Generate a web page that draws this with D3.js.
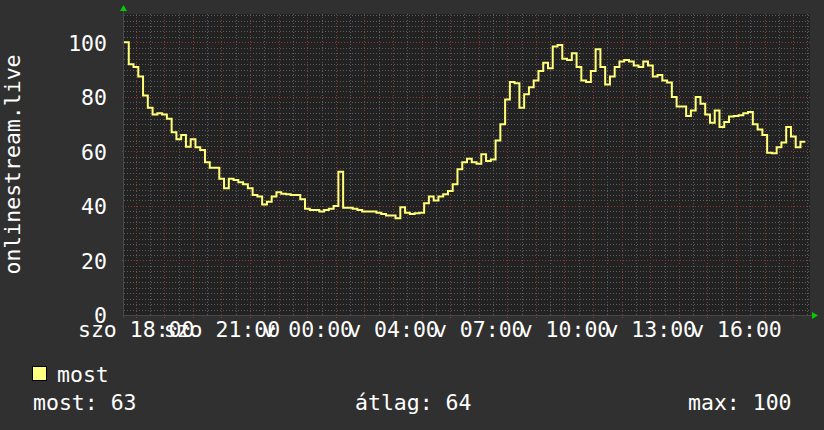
<!DOCTYPE html>
<html><head><meta charset="utf-8">
<script src="https://cdn.jsdelivr.net/npm/d3@7"></script>
<style>html,body{margin:0;padding:0;background:#303030;}svg{display:block;}</style>
</head><body>
<svg id="chart" width="824" height="430"></svg>
<script>
// ---- data (10-minute samples, starting 17:35 on "szo") ----
const values = [
 100, 92, 91, 87.5, 80.5, 76, 73.5, 74, 73.5, 72,
 67, 64.5, 66, 61.7, 64.5, 61.5, 60.5, 56, 54, 54,
 50, 46.5, 50, 49.5, 48.7, 48, 46.5, 44, 43.5, 40.5,
 41.5, 43.5, 45, 44.5, 44.3, 44, 44, 42.5, 39, 38.5,
 38.5, 38, 38.5, 39, 40, 52.5, 39.3, 39.3, 39, 38.5,
 38, 38, 38, 37.5, 37, 36.5, 36.5, 35.5, 39.5, 37.5,
 37, 37.3, 37.5, 41, 43.5, 42, 43.5, 44.3, 45.5, 48,
 53.5, 56, 57.3, 56, 55.5, 59, 56.5, 57, 64, 70,
 79, 85.5, 85, 76, 81, 83.5, 86, 89.5, 92.5, 90.5,
 98.5, 99, 94, 93.5, 96, 91, 86, 85.5, 89.5, 97.5,
 91, 84.5, 87.5, 91, 93, 93.5, 93, 91.5, 91, 93,
 91.5, 87.5, 88, 86, 85.3, 80, 76.5, 76.5, 73, 75,
 80, 77.5, 73.5, 70.5, 75, 69, 70.8, 72.8, 73, 73.3,
 74, 74.5, 70, 68, 66, 59.5, 59.3, 61.5, 63.3, 69,
 65.5, 61.5, 63.5
];
const sampleHours = 1 / 6;           // 10 minutes per sample
const spanHours = 24;                // one day shown
const tickLabels = ["szo 18:00", "szo 21:00", "v 00:00", "v 04:00", "v 07:00", "v 10:00", "v 13:00", "v 16:00"];
const tickHours = [0.41, 3.41, 6.41, 9.41, 12.41, 15.41, 18.41, 21.41];
const yTicks = [0, 20, 40, 60, 80, 100];
const yMax = 110.4;
const seriesName = "most";
const axisTitle = "onlinestream.live";
const legendStats = ["most: 63", "átlag: 64", "max: 100"];

// ---- layout ----
const svg = d3.select("#chart");
const W = 824, H = 430;
const L = 124, R = 810, T = 14, B = 315;
const FONT = "'DejaVu Sans Mono', monospace";
const FS = "21.5px";

svg.append("rect").attr("width", W).attr("height", H).attr("fill", "#303030");
svg.append("rect").attr("x", L).attr("y", T).attr("width", R - L).attr("height", B - T).attr("fill", "#222222");

const x = d3.scaleLinear().domain([0, spanHours]).range([L, R]);
const y = d3.scaleLinear().domain([0, yMax]).range([B, T]);

// minor grid
const minorX = d3.range(Math.ceil((0 - tickHours[0]) / 0.5), Math.floor((spanHours - tickHours[0]) / 0.5) + 1)
  .map(k => tickHours[0] + k * 0.5).filter(h => h > 0 && h < spanHours);
const minorY = d3.range(2, yMax, 2);
const grid = svg.append("g").attr("shape-rendering", "crispEdges");
grid.selectAll(".mx").data(minorX.filter(h => Math.abs(((h - tickHours[0]) % 1)) > 0.01))
  .join("line").attr("x1", d => Math.round(x(d)) + 0.5).attr("x2", d => Math.round(x(d)) + 0.5)
  .attr("y1", T).attr("y2", B).attr("stroke", "#5c5c5c").attr("stroke-dasharray", "1,2");
grid.selectAll(".my").data(minorY.filter(v => v % 20 !== 0))
  .join("line").attr("y1", d => Math.round(y(d)) + 0.5).attr("y2", d => Math.round(y(d)) + 0.5)
  .attr("x1", L).attr("x2", R).attr("stroke", "#5c5c5c").attr("stroke-dasharray", "1,2");
// major grid (hourly / every 20)
const majorX = minorX.filter(h => Math.abs(((h - tickHours[0]) % 1)) < 0.01);
grid.selectAll(".Mx").data(majorX)
  .join("line").attr("x1", d => Math.round(x(d)) + 0.5).attr("x2", d => Math.round(x(d)) + 0.5)
  .attr("y1", T).attr("y2", B + 3).attr("stroke", "#8a3838").attr("stroke-dasharray", "1,2");
grid.selectAll(".My").data(yTicks.filter(v => v > 0))
  .join("line").attr("y1", d => Math.round(y(d)) + 0.5).attr("y2", d => Math.round(y(d)) + 0.5)
  .attr("x1", L - 2).attr("x2", R).attr("stroke", "#8a3838").attr("stroke-dasharray", "1,2");

// axis lines
svg.append("line").attr("x1", L).attr("x2", R + 3).attr("y1", B + 0.5).attr("y2", B + 0.5).attr("stroke", "#484848");
svg.append("line").attr("x1", L - 0.5).attr("x2", L - 0.5).attr("y1", T - 3).attr("y2", B + 3).attr("stroke", "#484848");
// arrows
svg.append("path").attr("d", `M${R + 2},${B - 3} L${R + 8},${B + 0.5} L${R + 2},${B + 4} Z`).attr("fill", "#00cc00");
svg.append("path").attr("d", `M${L - 4},${T - 3} L${L - 0.5},${T - 9} L${L + 3},${T - 3} Z`).attr("fill", "#00cc00");

// y axis labels
const yAxis = d3.axisLeft(y).tickValues(yTicks).tickSize(0).tickPadding(17).tickFormat(d3.format("d"));
const gy = svg.append("g").attr("transform", `translate(${L},0)`).call(yAxis);
gy.select(".domain").remove();
gy.selectAll("text").attr("fill", "#ffffff").attr("font-family", FONT).attr("font-size", FS).attr("dy", "0.36em");

// x axis labels
const xAxis = d3.axisBottom(x).tickValues(tickHours).tickSize(0).tickPadding(0)
  .tickFormat((d, i) => tickLabels[i]);
const gx = svg.append("g").attr("transform", `translate(0,${B})`).call(xAxis);
gx.select(".domain").remove();
gx.selectAll("text").attr("fill", "#ffffff").attr("font-family", FONT).attr("font-size", FS)
  .attr("dy", null).attr("y", 22);

// y title
svg.append("text").attr("transform", `translate(20,${(T + B) / 2}) rotate(-90)`)
  .attr("text-anchor", "middle").attr("fill", "#ffffff").attr("font-family", FONT).attr("font-size", FS)
  .text(axisTitle);

// line
const pts = values.map((v, i) => [i * sampleHours, v]);
pts.push([values.length * sampleHours, values[values.length - 1]]);
const line = d3.line().x(d => x(d[0])).y(d => y(d[1])).curve(d3.curveStepAfter);
svg.append("path").datum(pts).attr("d", line).attr("fill", "none")
  .attr("stroke", "#ffff78").attr("stroke-width", 2).attr("stroke-linejoin", "miter");

// legend
svg.append("rect").attr("x", 32.5).attr("y", 366.5).attr("width", 14).attr("height", 14)
  .attr("fill", "#ffff80").attr("stroke", "#000000").attr("stroke-width", 1);
svg.append("text").attr("x", 57).attr("y", 382).attr("fill", "#ffffff").attr("font-family", FONT)
  .attr("font-size", FS).text(seriesName);
const statX = [33, 355, 688];
svg.selectAll(".stat").data(legendStats).join("text")
  .attr("x", (d, i) => statX[i]).attr("y", 410).attr("fill", "#ffffff")
  .attr("font-family", FONT).attr("font-size", FS).text(d => d);
</script>
</body></html>
